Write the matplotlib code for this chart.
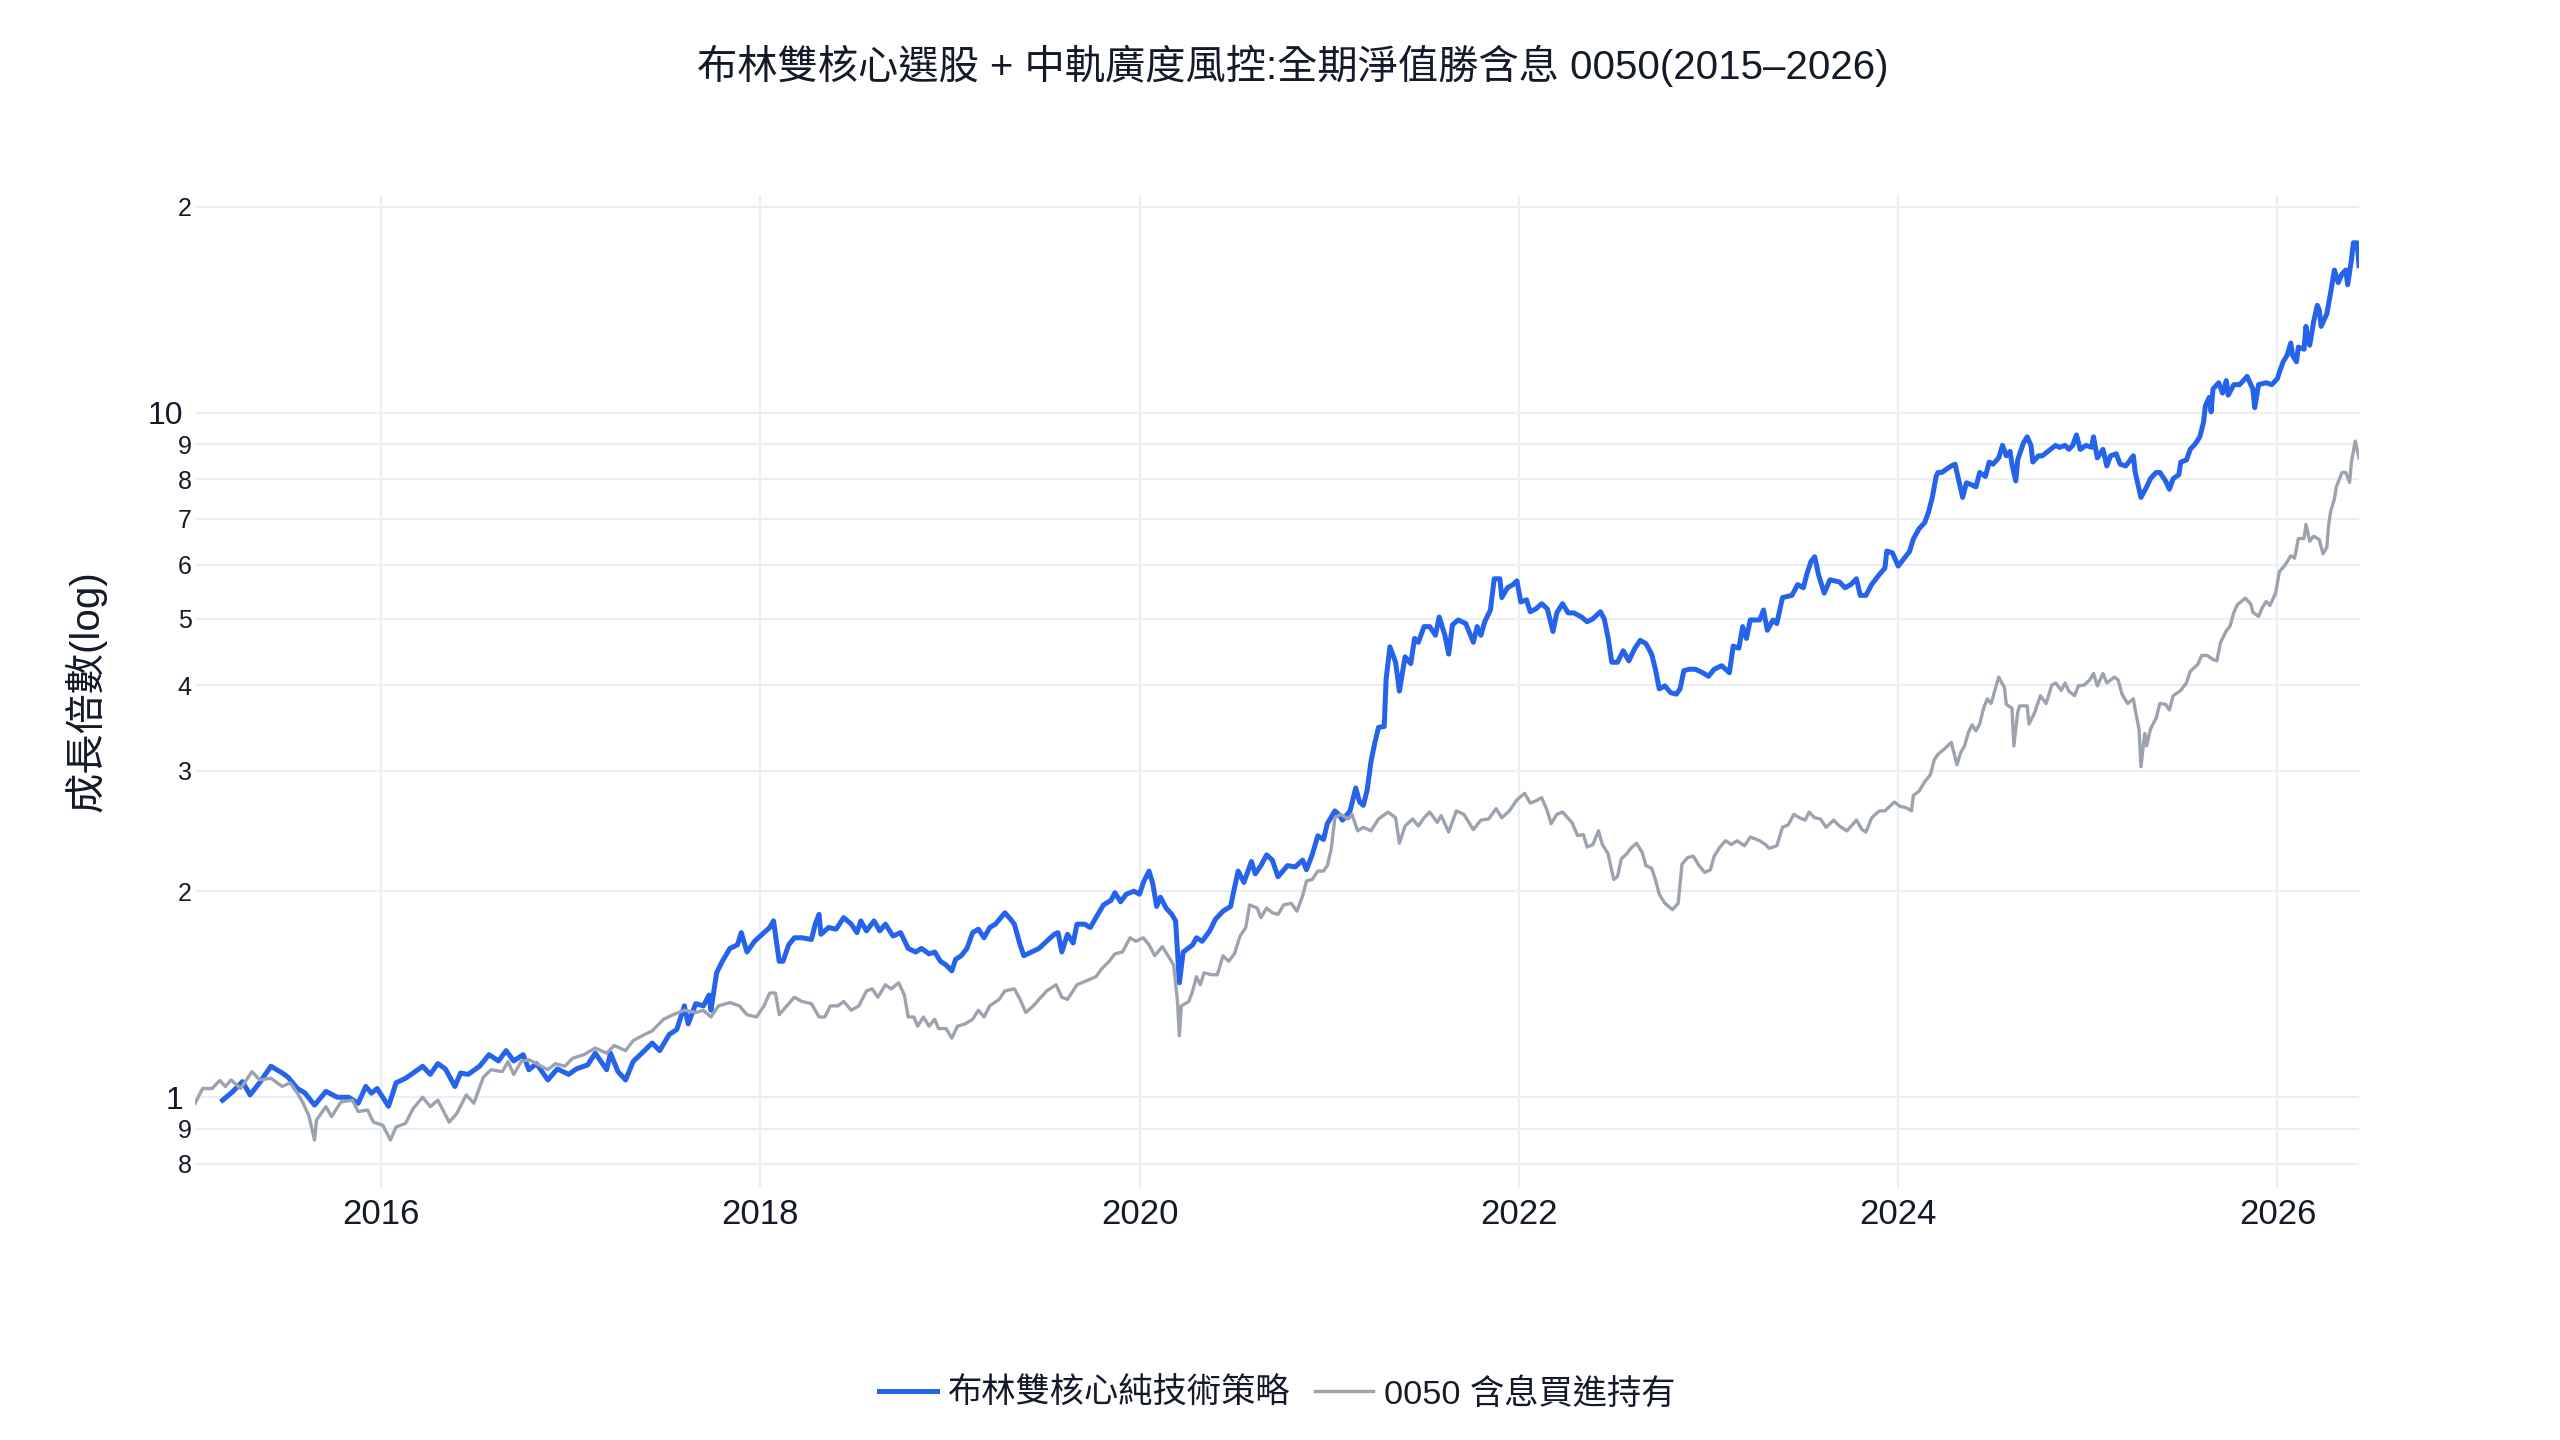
import matplotlib.pyplot as plt
plt.switch_backend('agg')

# 布林雙核心策略淨值 (decimal year, growth multiple)
blue_t = [2015.165, 2015.22, 2015.27, 2015.31, 2015.36, 2015.42, 2015.48, 2015.51, 2015.56, 2015.60,
          2015.65, 2015.71, 2015.77, 2015.83, 2015.88, 2015.92, 2015.95, 2015.98,
          2016.04, 2016.08, 2016.13, 2016.17, 2016.22, 2016.26, 2016.30, 2016.34, 2016.39, 2016.42,
          2016.46, 2016.52, 2016.57, 2016.62, 2016.66, 2016.70, 2016.75, 2016.78, 2016.82, 2016.88,
          2016.93, 2016.99,
          2017.03, 2017.09, 2017.13, 2017.19, 2017.21, 2017.25, 2017.29, 2017.33, 2017.39, 2017.43,
          2017.47, 2017.52, 2017.56, 2017.60, 2017.62, 2017.66, 2017.70, 2017.73, 2017.74, 2017.77,
          2017.80, 2017.84, 2017.88, 2017.90, 2017.93, 2017.97,
          2018.01, 2018.05, 2018.07, 2018.10, 2018.12, 2018.15, 2018.18, 2018.22, 2018.27, 2018.29,
          2018.31, 2018.32, 2018.36, 2018.40, 2018.44, 2018.48, 2018.51, 2018.53, 2018.56, 2018.60,
          2018.63, 2018.66, 2018.70, 2018.74, 2018.78, 2018.82, 2018.85, 2018.89, 2018.92, 2018.95,
          2018.98,
          2019.01, 2019.03, 2019.06, 2019.09, 2019.12, 2019.15, 2019.18, 2019.21, 2019.24, 2019.29,
          2019.32, 2019.34, 2019.37, 2019.39, 2019.43, 2019.47, 2019.51, 2019.55, 2019.57, 2019.59,
          2019.62, 2019.65, 2019.67, 2019.71, 2019.74, 2019.78, 2019.81, 2019.85, 2019.87, 2019.90,
          2019.93, 2019.97,
          2020.00, 2020.02, 2020.05, 2020.07, 2020.09, 2020.11, 2020.14, 2020.17, 2020.19, 2020.20,
          2020.21, 2020.23, 2020.28, 2020.30, 2020.33, 2020.37, 2020.40, 2020.44, 2020.48, 2020.50,
          2020.52, 2020.55, 2020.59, 2020.61, 2020.64, 2020.67, 2020.70, 2020.73, 2020.78, 2020.82,
          2020.86, 2020.88, 2020.91, 2020.94, 2020.97, 2020.99,
          2021.03, 2021.05, 2021.07, 2021.11, 2021.14, 2021.16, 2021.18, 2021.20, 2021.22, 2021.24,
          2021.26, 2021.29, 2021.30, 2021.32, 2021.35, 2021.37, 2021.40, 2021.43, 2021.45, 2021.47,
          2021.50, 2021.53, 2021.56, 2021.58, 2021.61, 2021.63, 2021.65, 2021.68, 2021.72, 2021.76,
          2021.78, 2021.80, 2021.82, 2021.85, 2021.87, 2021.90, 2021.91, 2021.94, 2021.97, 2021.99,
          2022.01, 2022.04, 2022.06, 2022.09, 2022.12, 2022.15, 2022.18, 2022.20, 2022.23, 2022.26,
          2022.29, 2022.33, 2022.36, 2022.39, 2022.43, 2022.45, 2022.47, 2022.49, 2022.52, 2022.55,
          2022.58, 2022.61, 2022.64, 2022.67, 2022.70, 2022.72, 2022.74, 2022.77, 2022.80, 2022.83,
          2022.85, 2022.87, 2022.90, 2022.93, 2022.97,
          2023.00, 2023.03, 2023.07, 2023.11, 2023.13, 2023.16, 2023.18, 2023.20, 2023.22, 2023.27,
          2023.29, 2023.31, 2023.34, 2023.36, 2023.39, 2023.44, 2023.47, 2023.50, 2023.52, 2023.54,
          2023.56, 2023.58, 2023.61, 2023.64, 2023.69, 2023.72, 2023.75, 2023.78, 2023.80, 2023.83,
          2023.86, 2023.90, 2023.93, 2023.94, 2023.97,
          2024.00, 2024.06, 2024.08, 2024.11, 2024.14, 2024.16, 2024.18, 2024.20, 2024.21, 2024.23,
          2024.26, 2024.28, 2024.30, 2024.32, 2024.34, 2024.36, 2024.39, 2024.41, 2024.43, 2024.46,
          2024.48, 2024.50, 2024.53, 2024.55, 2024.57, 2024.59, 2024.60, 2024.62, 2024.63, 2024.66,
          2024.68, 2024.70, 2024.71, 2024.74, 2024.76, 2024.79, 2024.83, 2024.85, 2024.88, 2024.90,
          2024.92, 2024.94, 2024.96, 2024.99,
          2025.02, 2025.03, 2025.05, 2025.08, 2025.10, 2025.12, 2025.15, 2025.17, 2025.20, 2025.24,
          2025.25, 2025.27, 2025.28, 2025.31, 2025.33, 2025.36, 2025.38, 2025.41, 2025.43, 2025.45,
          2025.48, 2025.49, 2025.52, 2025.54, 2025.57, 2025.59, 2025.61, 2025.62, 2025.64, 2025.65,
          2025.66, 2025.69, 2025.71, 2025.73, 2025.74, 2025.77, 2025.80, 2025.82, 2025.84, 2025.87,
          2025.88, 2025.90, 2025.94, 2025.97,
          2026.00, 2026.01, 2026.03, 2026.05, 2026.07, 2026.08, 2026.10, 2026.11, 2026.14, 2026.15,
          2026.16, 2026.17, 2026.19, 2026.21, 2026.22, 2026.23, 2026.26, 2026.28, 2026.30, 2026.32,
          2026.34, 2026.36, 2026.37, 2026.39, 2026.40, 2026.42, 2026.43]
blue_v = [0.99, 1.02, 1.054, 1.008, 1.05, 1.11, 1.085, 1.07, 1.03, 1.014,
          0.974, 1.02, 1.0, 1.0, 0.98, 1.037, 1.014, 1.03,
          0.97, 1.05, 1.066, 1.085, 1.11, 1.08, 1.12, 1.10, 1.037, 1.085,
          1.08, 1.11, 1.154, 1.13, 1.17, 1.13, 1.154, 1.097, 1.12, 1.06,
          1.10, 1.08,
          1.10, 1.115, 1.16, 1.097, 1.16, 1.09, 1.06, 1.128, 1.17, 1.20,
          1.17, 1.235, 1.256, 1.36, 1.28, 1.37, 1.36, 1.41, 1.34, 1.52,
          1.58, 1.65, 1.67, 1.74, 1.63, 1.69,
          1.73, 1.77, 1.81, 1.58, 1.58, 1.67, 1.71, 1.71, 1.70, 1.79,
          1.85, 1.73, 1.77, 1.76, 1.83, 1.79, 1.74, 1.81, 1.75, 1.81,
          1.75, 1.79, 1.72, 1.74, 1.65, 1.63, 1.65, 1.62, 1.63, 1.58,
          1.56,
          1.53, 1.59, 1.61, 1.65, 1.74, 1.76, 1.71, 1.77, 1.79, 1.86,
          1.82, 1.79, 1.67, 1.61, 1.63, 1.65, 1.69, 1.73, 1.74, 1.63,
          1.73, 1.68, 1.79, 1.79, 1.77, 1.85, 1.91, 1.94, 1.99, 1.93,
          1.98, 2.0,
          1.98, 2.06, 2.14, 2.05, 1.90, 1.96, 1.89, 1.85, 1.81, 1.63,
          1.47, 1.63, 1.67, 1.71, 1.69, 1.75, 1.82, 1.87, 1.90, 2.02,
          2.14, 2.06, 2.21, 2.12, 2.18, 2.26, 2.22, 2.10, 2.18, 2.17,
          2.22, 2.15, 2.26, 2.41, 2.38, 2.51,
          2.62, 2.59, 2.54, 2.62, 2.83, 2.70, 2.67, 2.81, 3.09, 3.29,
          3.47, 3.48, 4.08, 4.55, 4.32, 3.92, 4.40, 4.30, 4.68, 4.62,
          4.87, 4.87, 4.73, 5.03, 4.73, 4.44, 4.90, 4.98, 4.92, 4.62,
          4.87, 4.73, 4.95, 5.15, 5.72, 5.72, 5.37, 5.55, 5.61, 5.68,
          5.29, 5.33, 5.12, 5.17, 5.26, 5.17, 4.79, 5.10, 5.26, 5.10,
          5.10, 5.03, 4.95, 5.00, 5.12, 5.00, 4.70, 4.32, 4.32, 4.49,
          4.34, 4.52, 4.65, 4.60, 4.44, 4.22, 3.95, 3.99, 3.90, 3.88,
          3.95, 4.20, 4.22, 4.22, 4.17,
          4.12, 4.22, 4.27, 4.17, 4.56, 4.53, 4.87, 4.68, 4.98, 4.98,
          5.15, 4.81, 4.98, 4.92, 5.37, 5.41, 5.61, 5.55, 5.83, 6.06,
          6.16, 5.80, 5.45, 5.70, 5.66, 5.55, 5.61, 5.72, 5.41, 5.41,
          5.61, 5.80, 5.93, 6.28, 6.24,
          5.97, 6.27, 6.54, 6.77, 6.91, 7.16, 7.52, 8.07, 8.18, 8.18,
          8.29, 8.36, 8.41, 7.95, 7.52, 7.90, 7.84, 7.79, 8.18, 8.07,
          8.47, 8.41, 8.59, 8.96, 8.65, 8.78, 8.41, 7.95, 8.53, 9.03,
          9.22, 8.96, 8.47, 8.65, 8.65, 8.78, 8.96, 8.90, 8.96, 8.84,
          8.96, 9.28, 8.84, 8.96,
          8.90, 9.22, 8.59, 8.84, 8.36, 8.65, 8.71, 8.41, 8.36, 8.65,
          8.18, 7.73, 7.52, 7.79, 8.01, 8.18, 8.18, 7.95, 7.73, 8.01,
          8.12, 8.47, 8.53, 8.84, 9.03, 9.22, 9.68, 10.24, 10.53, 10.03,
          10.83, 11.06, 10.68, 11.14, 10.61, 10.99, 10.99, 11.14, 11.30, 10.83,
          10.17, 10.99, 11.06, 10.99,
          11.22, 11.46, 11.87, 12.12, 12.64, 12.12, 11.87, 12.47, 12.38, 13.37,
          12.83, 12.55, 13.56, 14.35, 14.14, 13.37, 13.94, 14.96, 16.16, 15.49,
          15.94, 16.16, 15.38, 16.73, 17.71, 17.71, 16.4]

# 0050 含息買進持有
gray_t = [2015.02, 2015.06, 2015.11, 2015.15, 2015.18, 2015.21, 2015.26, 2015.32, 2015.36, 2015.42,
          2015.48, 2015.52, 2015.56, 2015.59, 2015.62, 2015.65, 2015.66, 2015.71, 2015.74, 2015.79,
          2015.85, 2015.88, 2015.93, 2015.96,
          2016.01, 2016.05, 2016.08, 2016.13, 2016.17, 2016.22, 2016.26, 2016.30, 2016.36, 2016.40,
          2016.45, 2016.49, 2016.54, 2016.58, 2016.64, 2016.67, 2016.70, 2016.74, 2016.78, 2016.82,
          2016.88, 2016.92, 2016.97,
          2017.01, 2017.07, 2017.13, 2017.19, 2017.23, 2017.29, 2017.33, 2017.39, 2017.43, 2017.49,
          2017.54, 2017.60, 2017.66, 2017.70, 2017.74, 2017.78, 2017.84, 2017.89, 2017.93, 2017.98,
          2018.02, 2018.05, 2018.08, 2018.10, 2018.14, 2018.18, 2018.22, 2018.27, 2018.31, 2018.34,
          2018.37, 2018.41, 2018.44, 2018.48, 2018.52, 2018.56, 2018.59, 2018.62, 2018.66, 2018.69,
          2018.73, 2018.76, 2018.78, 2018.81, 2018.83, 2018.86, 2018.89, 2018.92, 2018.94, 2018.98,
          2019.01, 2019.04, 2019.08, 2019.12, 2019.15, 2019.18, 2019.21, 2019.26, 2019.29, 2019.34,
          2019.37, 2019.40, 2019.44, 2019.47, 2019.51, 2019.56, 2019.59, 2019.62, 2019.67, 2019.72,
          2019.77, 2019.80, 2019.84, 2019.87, 2019.91, 2019.95, 2019.98,
          2020.02, 2020.05, 2020.08, 2020.12, 2020.15, 2020.18, 2020.20, 2020.21, 2020.22, 2020.26,
          2020.28, 2020.30, 2020.32, 2020.34, 2020.38, 2020.41, 2020.44, 2020.47, 2020.50, 2020.53,
          2020.56, 2020.58, 2020.62, 2020.64, 2020.67, 2020.70, 2020.73, 2020.76, 2020.80, 2020.83,
          2020.86, 2020.88, 2020.91, 2020.94, 2020.97, 2020.99,
          2021.01, 2021.03, 2021.06, 2021.10, 2021.12, 2021.15, 2021.18, 2021.22, 2021.26, 2021.31,
          2021.35, 2021.37, 2021.40, 2021.44, 2021.47, 2021.50, 2021.53, 2021.57, 2021.59, 2021.63,
          2021.67, 2021.71, 2021.76, 2021.80, 2021.84, 2021.88, 2021.91, 2021.95, 2021.99,
          2022.03, 2022.06, 2022.09, 2022.12, 2022.15, 2022.17, 2022.20, 2022.23, 2022.28, 2022.31,
          2022.34, 2022.36, 2022.39, 2022.42, 2022.44, 2022.47, 2022.50, 2022.52, 2022.54, 2022.57,
          2022.59, 2022.62, 2022.65, 2022.67, 2022.70, 2022.72, 2022.74, 2022.77, 2022.81, 2022.84,
          2022.86, 2022.89, 2022.92, 2022.95, 2022.98,
          2023.01, 2023.03, 2023.06, 2023.09, 2023.12, 2023.15, 2023.19, 2023.22, 2023.27, 2023.30,
          2023.32, 2023.36, 2023.39, 2023.42, 2023.45, 2023.48, 2023.51, 2023.53, 2023.56, 2023.59,
          2023.62, 2023.66, 2023.69, 2023.73, 2023.78, 2023.81, 2023.83, 2023.86, 2023.90, 2023.93,
          2023.98,
          2024.01, 2024.04, 2024.07, 2024.08, 2024.11, 2024.14, 2024.17, 2024.19, 2024.21, 2024.24,
          2024.28, 2024.31, 2024.33, 2024.35, 2024.37, 2024.39, 2024.41, 2024.43, 2024.45, 2024.47,
          2024.49, 2024.51, 2024.53, 2024.56, 2024.57, 2024.60, 2024.61, 2024.63, 2024.64, 2024.68,
          2024.69, 2024.72, 2024.75, 2024.78, 2024.81, 2024.83, 2024.86, 2024.88, 2024.90, 2024.93,
          2024.95, 2024.98,
          2025.01, 2025.03, 2025.05, 2025.08, 2025.10, 2025.14, 2025.16, 2025.18, 2025.21, 2025.24,
          2025.25, 2025.27, 2025.28, 2025.30, 2025.31, 2025.33, 2025.36, 2025.38, 2025.41, 2025.43,
          2025.45, 2025.49, 2025.52, 2025.54, 2025.58, 2025.60, 2025.63, 2025.66, 2025.68, 2025.70,
          2025.73, 2025.75, 2025.77, 2025.79, 2025.81, 2025.83, 2025.86, 2025.87, 2025.90, 2025.92,
          2025.94, 2025.96, 2025.99,
          2026.01, 2026.04, 2026.07, 2026.09, 2026.11, 2026.14, 2026.15, 2026.17, 2026.19, 2026.22,
          2026.24, 2026.26, 2026.27, 2026.28, 2026.30, 2026.31, 2026.34, 2026.36, 2026.38, 2026.39,
          2026.41, 2026.43]
gray_v = [0.98, 1.03, 1.03, 1.058, 1.037, 1.06, 1.03, 1.09, 1.06, 1.066,
          1.037, 1.05, 1.014, 0.98, 0.94, 0.866, 0.926, 0.969, 0.937, 0.985,
          0.99, 0.953, 0.958, 0.92,
          0.91, 0.866, 0.905, 0.916, 0.963, 1.0, 0.969, 0.99, 0.92, 0.947,
          1.008, 0.98, 1.07, 1.097, 1.09, 1.128, 1.08, 1.128, 1.135, 1.12,
          1.097, 1.12, 1.11,
          1.14, 1.154, 1.18, 1.16, 1.19, 1.17, 1.21, 1.235, 1.25, 1.30,
          1.32, 1.34, 1.33, 1.34, 1.31, 1.36, 1.375, 1.36, 1.32, 1.31,
          1.36, 1.42, 1.42, 1.32, 1.36, 1.40, 1.38, 1.37, 1.31, 1.31,
          1.36, 1.36, 1.38, 1.34, 1.36, 1.43, 1.44, 1.40, 1.46, 1.44,
          1.47, 1.41, 1.31, 1.31, 1.27, 1.31, 1.27, 1.30, 1.26, 1.26,
          1.22, 1.27, 1.28, 1.30, 1.34, 1.31, 1.36, 1.39, 1.43, 1.44,
          1.39, 1.33, 1.36, 1.39, 1.43, 1.46, 1.40, 1.39, 1.46, 1.48,
          1.50, 1.54, 1.58, 1.62, 1.63, 1.71, 1.69,
          1.71, 1.67, 1.61, 1.66, 1.61, 1.56, 1.38, 1.23, 1.36, 1.38,
          1.43, 1.50, 1.46, 1.52, 1.51, 1.51, 1.61, 1.58, 1.62, 1.72,
          1.77, 1.91, 1.89, 1.83, 1.89, 1.86, 1.85, 1.91, 1.92, 1.87,
          1.97, 2.07, 2.08, 2.14, 2.14, 2.18,
          2.30, 2.56, 2.59, 2.55, 2.59, 2.45, 2.48, 2.45, 2.55, 2.61,
          2.56, 2.35, 2.49, 2.55, 2.49, 2.56, 2.61, 2.52, 2.58, 2.44,
          2.62, 2.59, 2.46, 2.54, 2.55, 2.64, 2.56, 2.62, 2.72,
          2.78, 2.69, 2.71, 2.74, 2.62, 2.51, 2.59, 2.61, 2.52, 2.41,
          2.42, 2.32, 2.34, 2.45, 2.34, 2.27, 2.08, 2.10, 2.23, 2.27,
          2.31, 2.35, 2.28, 2.18, 2.16, 2.08, 1.98, 1.92, 1.88, 1.92,
          2.19, 2.24, 2.25, 2.18, 2.13,
          2.15, 2.25, 2.32, 2.37, 2.34, 2.37, 2.33, 2.40, 2.37, 2.34,
          2.31, 2.33, 2.48, 2.50, 2.59, 2.56, 2.54, 2.61, 2.56, 2.55,
          2.48, 2.54, 2.49, 2.45, 2.54, 2.46, 2.44, 2.56, 2.62, 2.62,
          2.70,
          2.66, 2.65, 2.62, 2.76, 2.80, 2.89, 2.96, 3.11, 3.17, 3.22,
          3.30, 3.06, 3.19, 3.26, 3.41, 3.50, 3.43, 3.51, 3.70, 3.82,
          3.76, 3.93, 4.11, 3.97, 3.75, 3.70, 3.26, 3.65, 3.73, 3.73,
          3.51, 3.65, 3.86, 3.76, 4.00, 4.03, 3.93, 4.03, 3.92, 3.86,
          3.99, 4.00,
          4.07, 4.16, 3.99, 4.16, 4.03, 4.11, 4.07, 3.88, 3.76, 3.82,
          3.68, 3.45, 3.04, 3.40, 3.26, 3.45, 3.58, 3.76, 3.75, 3.68,
          3.86, 3.93, 4.03, 4.19, 4.29, 4.42, 4.42, 4.36, 4.34, 4.62,
          4.80, 4.88, 5.11, 5.25, 5.30, 5.36, 5.25, 5.11, 5.04, 5.19,
          5.30, 5.23, 5.45,
          5.86, 5.99, 6.18, 6.13, 6.55, 6.55, 6.87, 6.49, 6.60, 6.53,
          6.22, 6.36, 6.87, 7.17, 7.48, 7.79, 8.18, 8.18, 7.91, 8.48,
          9.09, 8.59]

year_ticks = [2016, 2018, 2020, 2022, 2024, 2026]
y_major = [1, 10]
y_major_labels = ['1', '10']
y_minor = [0.8, 0.9, 2, 3, 4, 5, 6, 7, 8, 9, 20]
y_minor_labels = ['8', '9', '2', '3', '4', '5', '6', '7', '8', '9', '2']

title = '布林雙核心選股 + 中軌廣度風控:全期淨值勝含息 0050(2015–2026)'
blue_name = '布林雙核心純技術策略'
gray_name = '0050 含息買進持有'

plt.rcParams['font.family'] = ['Liberation Sans', 'Noto Sans CJK TC', 'DejaVu Sans']
text_color = '#141a29'
grid_color = '#ebeef5'

fig = plt.figure(figsize=(25.6, 14.4), dpi=100)
ax = fig.add_axes([0.0762, 0.175, 0.8453, 0.6896])

ax.plot(blue_t, blue_v, color='#2563eb', lw=3.6, label=blue_name,
        solid_joinstyle='round', zorder=3)
ax.plot(gray_t, gray_v, color='#9ca3af', lw=2.4, label=gray_name,
        solid_joinstyle='round', zorder=4)

ax.set_yscale('log')
ax.set_ylim(0.737, 20.8)
ax.set_xlim(gray_t[0], blue_t[-1])

ax.set_xticks(year_ticks, [str(y) for y in year_ticks])
ax.set_yticks(y_major, y_major_labels)
ax.set_yticks(y_minor, y_minor_labels, minor=True)
ax.tick_params(axis='x', length=0, pad=7, labelsize=25, labelcolor=text_color)
ax.tick_params(axis='y', which='major', length=0, pad=8.5, labelsize=23, labelcolor=text_color)
ax.tick_params(axis='y', which='minor', length=0, pad=2.5, labelsize=18, labelcolor=text_color)

ax.grid(True, which='both', axis='y', color=grid_color, lw=1.6, zorder=0)
ax.grid(True, which='major', axis='x', color=grid_color, lw=1.6, zorder=0)
ax.set_axisbelow(True)
for s in ax.spines.values():
    s.set_visible(False)

ax.set_ylabel('成長倍數(log)', fontsize=29, color=text_color)
ax.yaxis.set_label_coords(-0.041, 0.5)

fig.text(0.505, 0.954, title, ha='center', va='center', fontsize=29, color=text_color)

handles, labels = ax.get_legend_handles_labels()
fig.legend(handles, labels, loc='center', bbox_to_anchor=(0.499, 0.032), ncol=2,
           frameon=False, fontsize=24.7, handlelength=1.7, handletextpad=0.32,
           columnspacing=0.7, labelcolor=text_color)

fig.savefig('out.png', dpi=100, facecolor='white')
